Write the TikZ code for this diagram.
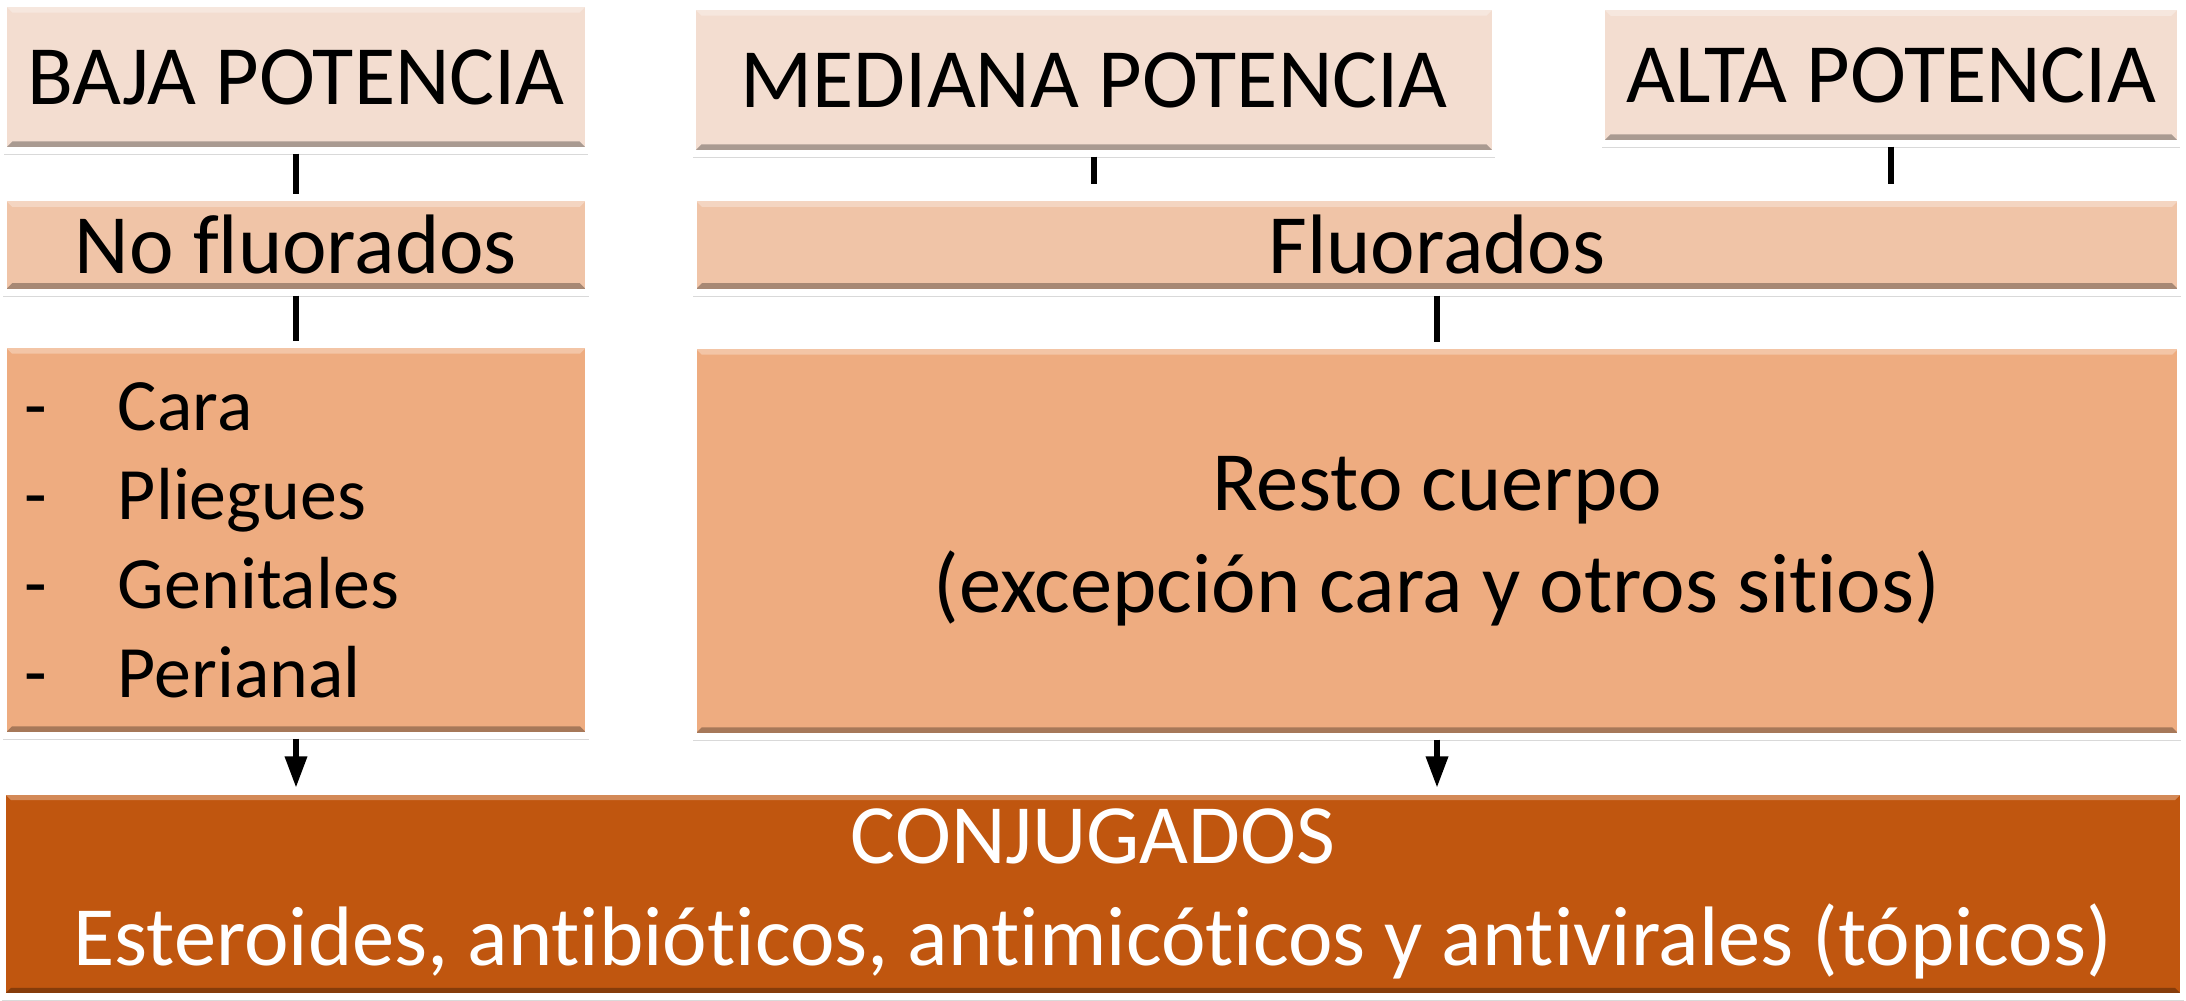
\documentclass[tikz,border=0pt]{standalone}
\usepackage{fontspec}
\setmainfont{Carlito}[Ligatures=NoCommon]
\usepackage{tikz}
\usetikzlibrary{positioning, arrows.meta, shadows}
\definecolor{potenciafill}{HTML}{F3DDD0}
\definecolor{fluorfill}{HTML}{F0C4A7}
\definecolor{zonafill}{HTML}{EEAC80}
\definecolor{conjfill}{HTML}{C0560F}
\tikzstyle{arrow} = [line width=1.8pt,-{Triangle[width=6pt,length=9pt]}]

\begin{document}
\begin{tikzpicture}[x=0.01cm, y=-0.01cm]
                \tikzstyle{every node}=[font=\fontsize{24}{29}\selectfont]
                \tikzstyle{box} = [rectangle, draw=white, line width=2pt, inner sep=0pt,
                        drop shadow={shadow xshift=0pt, shadow yshift=-1.5pt, opacity=0.3},
                        path picture={
                          \fill[white, opacity=0.3] (path picture bounding box.north west) -- (path picture bounding box.north east)
                            -- ([xshift=-2.5pt, yshift=-2.5pt]path picture bounding box.north east) -- ([xshift=2.5pt, yshift=-2.5pt]path picture bounding box.north west) -- cycle;
                          \fill[black, opacity=0.3] (path picture bounding box.south west) -- (path picture bounding box.south east)
                            -- ([xshift=-2.5pt, yshift=2.5pt]path picture bounding box.south east) -- ([xshift=2.5pt, yshift=2.5pt]path picture bounding box.south west) -- cycle;
                        }]
                \tikzstyle{potencia} = [box, fill=potenciafill, minimum height=1.46cm]
                \tikzstyle{fluor} = [box, fill=fluorfill, minimum height=0.94cm]
                \tikzstyle{zona} = [box, fill=zonafill, minimum height=3.9cm]
                \tikzstyle{edge} = [line width=1.8pt]

                \useasboundingbox (0,0) rectangle (2186,1000);

                \node[potencia, minimum width=5.84cm](baja) at (296,77) {BAJA POTENCIA};
                \node[potencia, minimum width=8.02cm](media) at (1094,80) {MEDIANA POTENCIA};
                \node[potencia, minimum width=5.78cm, minimum height=1.36cm](alta) at (1891,75) {ALTA POTENCIA};

                \node[fluor, minimum width=5.85cm](nofl) at (296,245) {No fluorados};
                \node[fluor, minimum width=14.87cm](fl) at (1437,245) {Fluorados};

                \node[zona, minimum width=5.85cm, text width=5.42cm, align=left,
                      font=\fontsize{21}{25.3}\selectfont](zonas) at (296,540)
                      {\makebox[26.5pt][l]{-}Cara\\ \makebox[26.5pt][l]{-}Pliegues\\
                       \makebox[26.5pt][l]{-}Genitales\\ \makebox[26.5pt][l]{-}Perianal};
                \node[zona, minimum width=14.87cm, align=center](resto) at (1437,541)
                      {Resto cuerpo\\(excepción cara y otros sitios)};

                \node[box, fill=conjfill, text=white, align=center,
                      minimum width=21.8cm, minimum height=2.05cm](conj) at (1093,894)
                      {CONJUGADOS\\Esteroides, antibióticos, antimicóticos y antivirales (tópicos)};

                \draw[edge] (baja) -- (nofl);
                \draw[edge] (nofl) -- (zonas);
                \draw[edge, shorten >=3pt] (media.south) -- (media.south |- fl.north);
                \draw[edge, shorten >=3pt] (alta.south) -- (alta.south |- fl.north);
                \draw[edge] (fl) -- (resto);

                \draw[arrow] (zonas) -- (zonas.south |- conj.north);
                \draw[arrow] (resto) -- (resto.south |- conj.north);

        \end{tikzpicture}
\end{document}
